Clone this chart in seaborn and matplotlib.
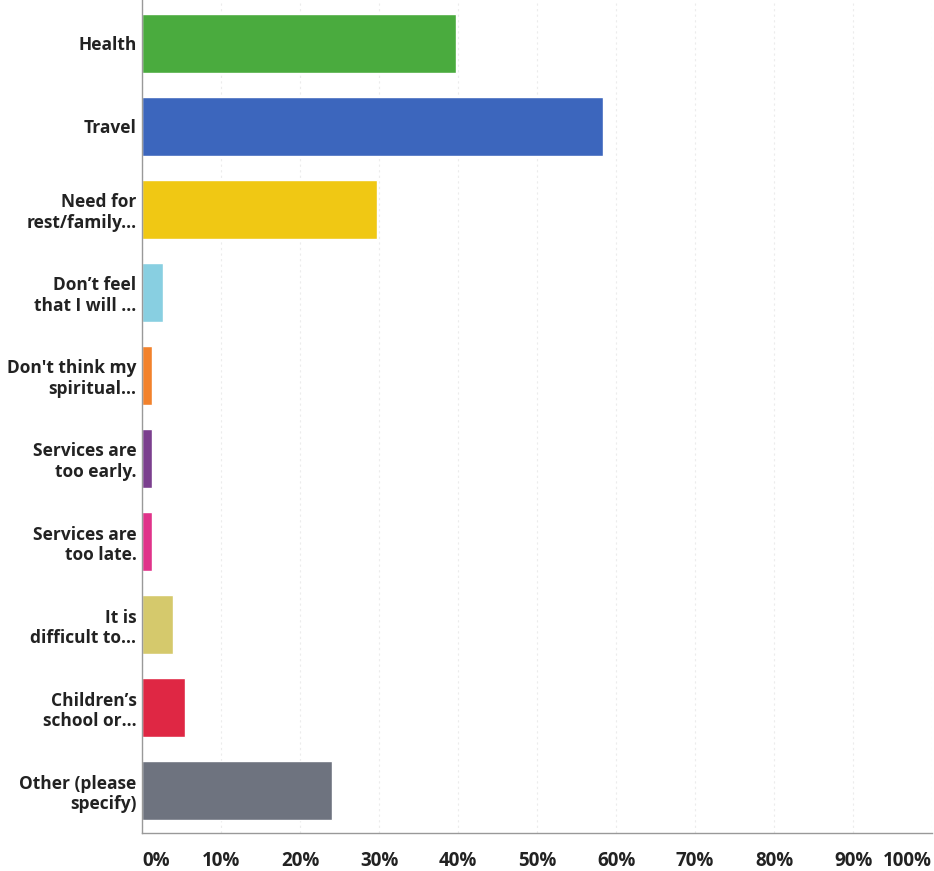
import matplotlib
matplotlib.use("Agg")
import matplotlib.pyplot as plt
import seaborn as sns
import pandas as pd

# Survey answers and share of respondents (percent)
answers = [
    "Health",
    "Travel",
    "Need for\nrest/family...",
    "Don\u2019t feel\nthat I will ...",
    "Don't think my\nspiritual...",
    "Services are\ntoo early.",
    "Services are\ntoo late.",
    "It is\ndifficult to...",
    "Children\u2019s\nschool or...",
    "Other (please\nspecify)",
]
shares = [39.8, 58.4, 29.8, 2.7, 1.3, 1.3, 1.3, 3.9, 5.4, 24.1]
bar_colors = ["#4aab3e", "#3c66bd", "#f0c814", "#88cfe1", "#f2822c",
              "#7b3f8e", "#e0338a", "#d5c96c", "#df2744", "#6e737f"]
tick_values = [0, 10, 20, 30, 40, 50, 60, 70, 80, 90, 100]
tick_labels = ["0%", "10%", "20%", "30%", "40%", "50%", "60%", "70%", "80%", "90%", "100%"]

df = pd.DataFrame({"answer": answers, "share": shares})

sns.set_style("white")
plt.rcParams["font.family"] = ["Open Sans", "DejaVu Sans"]

fig = plt.figure(figsize=(9.34, 8.71), dpi=100)
ax = fig.add_axes([0.152, 0.0436, 0.846, 0.9564])

sns.barplot(data=df, x="share", y="answer", hue="answer", palette=bar_colors,
            legend=False, width=0.71, saturation=1, orient="h", ax=ax)

ax.set_xlim(0, 100)
ax.set_ylim(9.51, -0.52)
ax.set_xticks(tick_values)
ax.set_xticklabels(tick_labels, fontsize=13.5, fontweight="bold", color="#222222")
for lab in ax.get_xticklabels():
    if lab.get_text() == "0%":
        lab.set_horizontalalignment("left")
    elif lab.get_text() == "100%":
        lab.set_horizontalalignment("right")
ax.tick_params(axis="x", length=0, pad=13)
ax.tick_params(axis="y", length=0, pad=4)
for lab in ax.get_yticklabels():
    lab.set_fontsize(12.5)
    lab.set_fontweight("bold")
    lab.set_color("#222222")
    lab.set_linespacing(1.2)

ax.set_xlabel("")
ax.set_ylabel("")
ax.xaxis.grid(True, color="#ececec", linestyle=(0, (2, 3)), linewidth=0.8)
ax.set_axisbelow(True)
for side in ["top", "right"]:
    ax.spines[side].set_visible(False)
for side in ["left", "bottom"]:
    ax.spines[side].set_color("#999999")
    ax.spines[side].set_linewidth(1.0)

fig.savefig("out.png", dpi=100)
